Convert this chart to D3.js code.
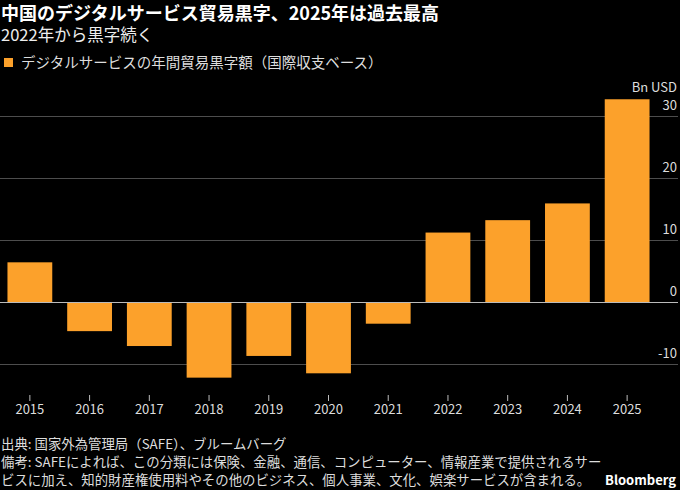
<!DOCTYPE html>
<html>
<head>
<meta charset="utf-8">
<script src="https://cdn.jsdelivr.net/npm/d3@7"></script>
<style>
  html, body { margin: 0; padding: 0; background: #000; }
  body { width: 680px; height: 490px; overflow: hidden; }
  text { font-family: "Noto Sans CJK JP", "Noto Sans", sans-serif; }
</style>
</head>
<body>
<div id="canvas"></div>
<script>
// data (Bn USD)
var years = ["2015", "2016", "2017", "2018", "2019", "2020", "2021", "2022", "2023", "2024", "2025"];
var surplus = [6.4, -4.7, -7.1, -12.2, -8.7, -11.5, -3.5, 11.2, 13.2, 15.9, 32.7];
var yTicks = [-10, 0, 10, 20, 30];

var footLines = [
  "出典: 国家外為管理局（SAFE）、ブルームバーグ",
  "備考: SAFEによれば、この分類には保険、金融、通信、コンピューター、情報産業で提供されるサー",
  "ビスに加え、知的財産権使用料やその他のビジネス、個人事業、文化、娯楽サービスが含まれる。"
];

var width = 680, height = 490;
var orange = "#fca12b";

var svg = d3.select("#canvas")
  .append("svg")
  .attr("width", width)
  .attr("height", height);

svg.append("rect").attr("width", width).attr("height", height).attr("fill", "#000");

// title and subtitle
svg.append("text")
  .attr("x", 1).attr("y", 20)
  .attr("fill", "#fff")
  .style("font-size", "18px")
  .style("font-weight", "bold")
  .text("中国のデジタルサービス貿易黒字、2025年は過去最高");

svg.append("text")
  .attr("x", 1).attr("y", 41)
  .attr("fill", "#eee")
  .style("font-size", "16.5px")
  .text("2022年から黒字続く");

// legend
svg.append("rect")
  .attr("x", 4).attr("y", 58).attr("width", 9).attr("height", 9)
  .attr("fill", orange);
svg.append("text")
  .attr("x", 21).attr("y", 68)
  .attr("fill", "#ddd")
  .style("font-size", "14.5px")
  .text("デジタルサービスの年間貿易黒字額（国際収支ベース）");

// scales
var x = d3.scaleBand()
  .domain(years)
  .range([0, 657])
  .paddingInner(0.25)
  .paddingOuter(0.125);

var y = d3.scaleLinear()
  .domain([-15, 35])
  .range([395, 85]);

// grid lines
svg.append("g")
  .selectAll("line")
  .data(yTicks)
  .join("line")
  .attr("x1", 0).attr("x2", 678)
  .attr("y1", d => y(d) + 0.5).attr("y2", d => y(d) + 0.5)
  .attr("stroke", d => d === 0 ? "#bbb" : "#4d4d4d")
  .attr("stroke-width", 1);

// bars
svg.append("g")
  .selectAll("rect")
  .data(surplus)
  .join("rect")
  .attr("x", (d, i) => x(years[i]))
  .attr("width", x.bandwidth())
  .attr("y", d => y(Math.max(0, d)))
  .attr("height", d => Math.abs(y(d) - y(0)))
  .attr("fill", orange);

// zero line on top of bars
svg.append("line")
  .attr("x1", 0).attr("x2", 678)
  .attr("y1", y(0) + 0.5).attr("y2", y(0) + 0.5)
  .attr("stroke", "#bbb");

// y axis labels (right side, above the grid lines)
svg.append("g")
  .selectAll("text")
  .data(yTicks)
  .join("text")
  .attr("x", 677)
  .attr("y", d => y(d) - 6)
  .attr("text-anchor", "end")
  .attr("fill", "#ddd")
  .style("font-size", "13px")
  .text(d => d);

svg.append("text")
  .attr("x", 677).attr("y", 92)
  .attr("text-anchor", "end")
  .attr("fill", "#ddd")
  .style("font-size", "13px")
  .text("Bn USD");

// x axis
var xAxis = svg.append("g")
  .attr("transform", "translate(0,395)")
  .call(d3.axisBottom(x).tickSize(6).tickPadding(4));
xAxis.select(".domain").remove();
xAxis.selectAll("line").attr("stroke", "#bbb");
xAxis.selectAll("text")
  .attr("fill", "#ddd")
  .style("font-size", "13px")
  .style("font-family", "'Noto Sans CJK JP', 'Noto Sans', sans-serif");

// footer notes
svg.append("g")
  .selectAll("text")
  .data(footLines)
  .join("text")
  .attr("x", 1)
  .attr("y", (d, i) => 449 + i * 18)
  .attr("fill", "#ddd")
  .style("font-size", "13.4px")
  .text(d => d);

svg.append("text")
  .attr("x", 676).attr("y", 485)
  .attr("text-anchor", "end")
  .attr("fill", "#fff")
  .style("font-size", "13px")
  .style("font-weight", "bold")
  .text("Bloomberg");
</script>
</body>
</html>
